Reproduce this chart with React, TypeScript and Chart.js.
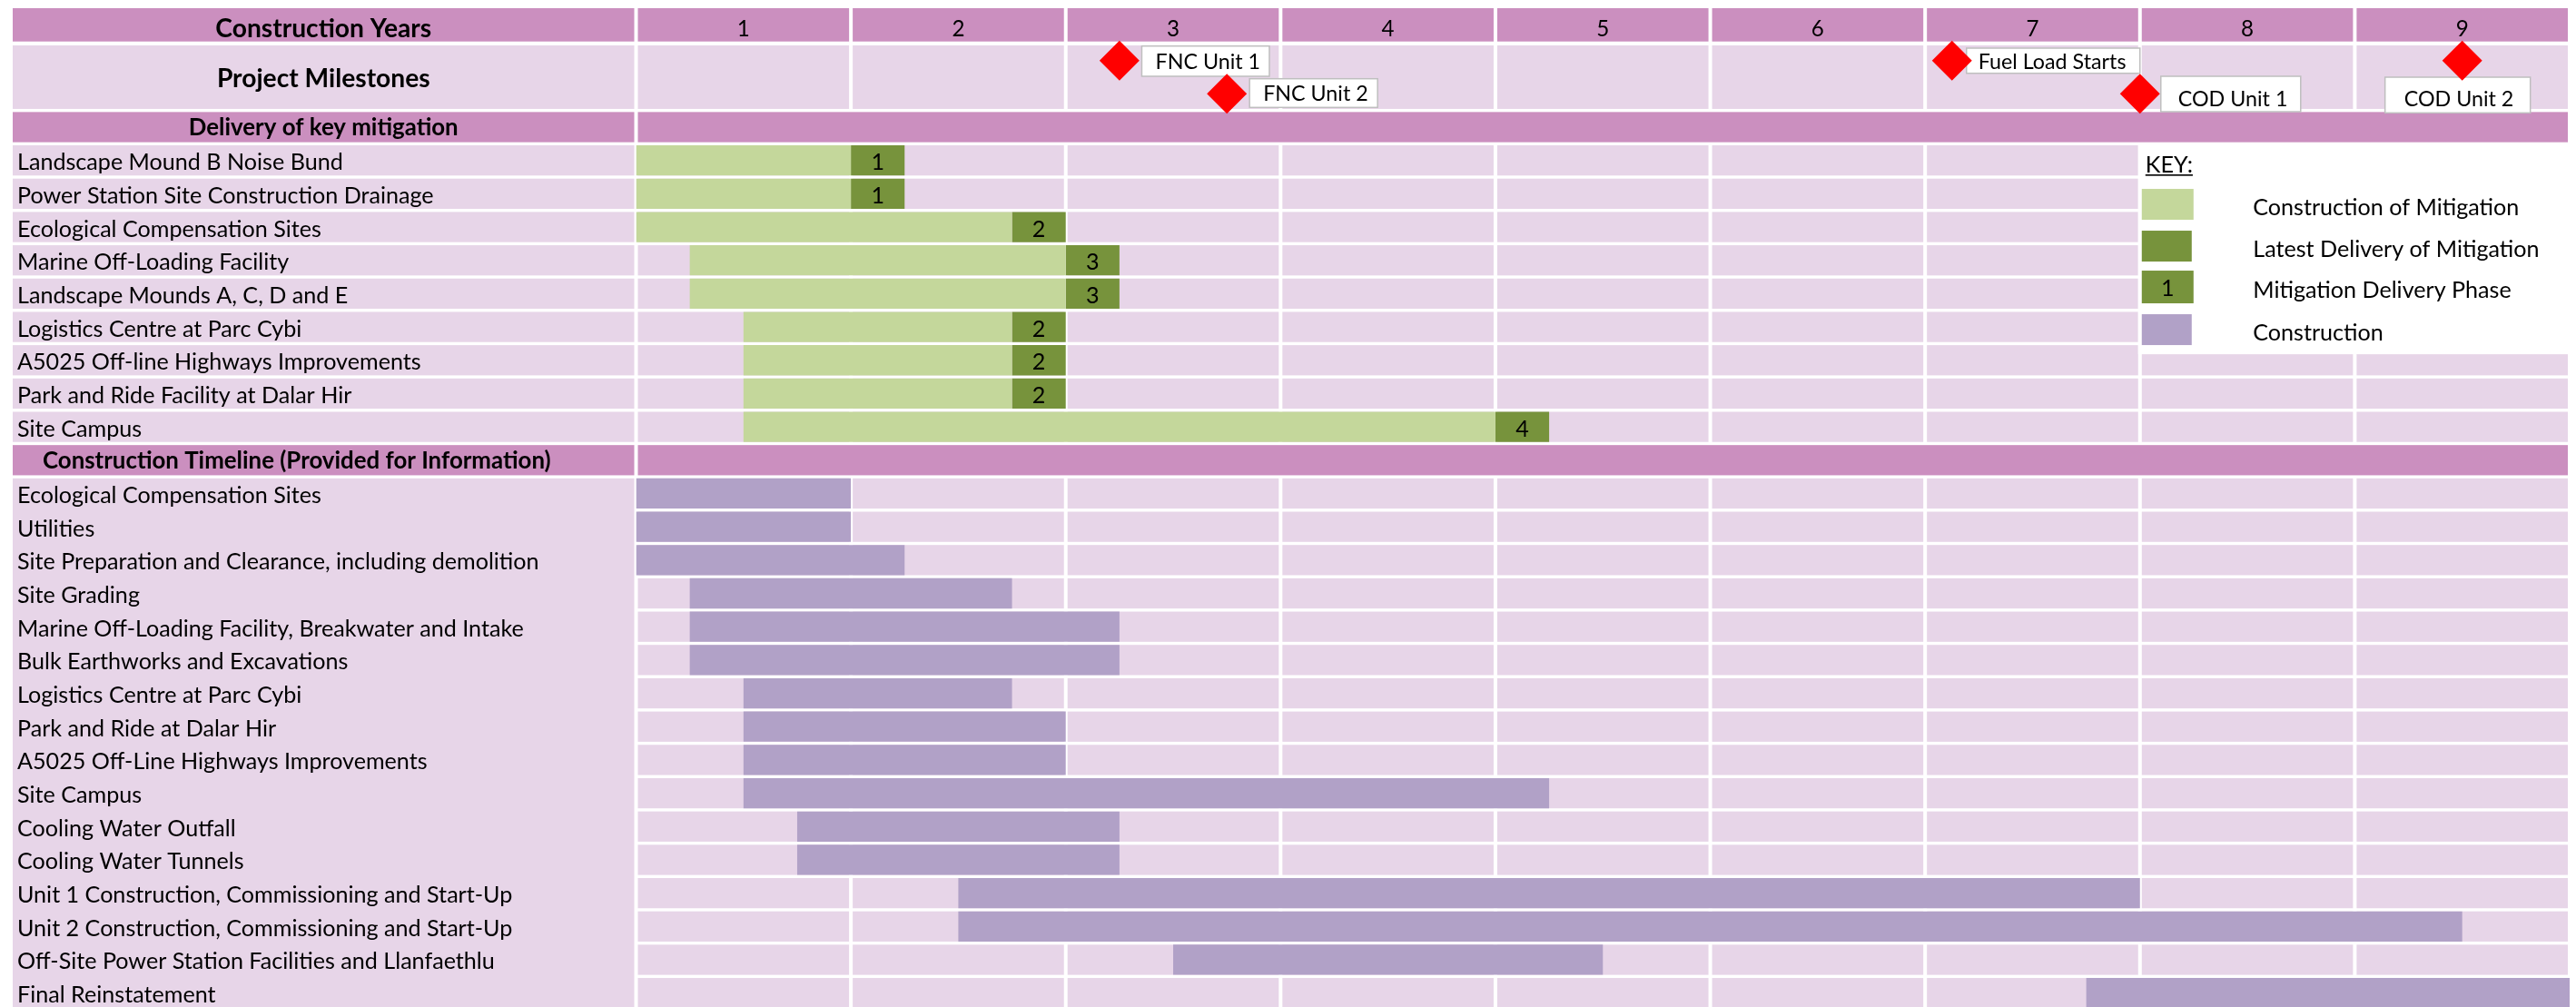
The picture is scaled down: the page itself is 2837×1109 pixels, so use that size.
import { useEffect, useRef } from 'react';
import { Chart, registerables } from 'chart.js';

Chart.register(...registerables);

// ---------------- data ----------------
const yearsHeading = 'Construction Years';
const yearLabels = ['1', '2', '3', '4', '5', '6', '7', '8', '9'];
const quartersPerYear = 4;

const milestoneHeading = 'Project Milestones';
const milestoneLowerLane = ' ';
const milestoneNames = ['FNC Unit 1', 'FNC Unit 2', 'Fuel Load Starts', 'COD Unit 1', 'COD Unit 2'];
const milestoneQuarter = [9, 11, 24.5, 28, 34];
const milestoneLane = [milestoneHeading, milestoneLowerLane, milestoneHeading, milestoneLowerLane, milestoneHeading];

const mitigationHeading = 'Delivery of key mitigation';
const mitigationTasks = [
  'Landscape Mound B Noise Bund',
  'Power Station Site Construction Drainage',
  'Ecological Compensation Sites',
  'Marine Off-Loading Facility',
  'Landscape Mounds A, C, D and E',
  'Logistics Centre at Parc Cybi',
  'A5025 Off-line Highways Improvements',
  'Park and Ride Facility at Dalar Hir',
  'Site Campus',
];
const mitigationStart = [0, 0, 0, 1, 1, 2, 2, 2, 2];
const mitigationLatestStart = [4, 4, 7, 8, 8, 7, 7, 7, 16];
const mitigationLatestEnd = [5, 5, 8, 9, 9, 8, 8, 8, 17];
const mitigationPhase = [1, 1, 2, 3, 3, 2, 2, 2, 4];

const constructionHeading = 'Construction Timeline (Provided for Information)';
const constructionTasks = [
  'Ecological Compensation Sites',
  'Utilities',
  'Site Preparation and Clearance, including demolition',
  'Site Grading',
  'Marine Off-Loading Facility, Breakwater and Intake',
  'Bulk Earthworks and Excavations',
  'Logistics Centre at Parc Cybi',
  'Park and Ride at Dalar Hir',
  'A5025 Off-Line Highways Improvements',
  'Site Campus',
  'Cooling Water Outfall',
  'Cooling Water Tunnels',
  'Unit 1 Construction, Commissioning and Start-Up',
  'Unit 2 Construction, Commissioning and Start-Up',
  'Off-Site Power Station Facilities and Llanfaethlu',
  'Final Reinstatement',
];
const constructionStart = [0, 0, 0, 1, 1, 1, 2, 2, 2, 2, 3, 3, 6, 6, 10, 27];
const constructionEnd = [4, 4, 5, 7, 9, 9, 7, 8, 8, 17, 9, 9, 28, 34, 18, 36];

const keyTitle = 'KEY:';
const keyLabels = ['Construction of Mitigation', 'Latest Delivery of Mitigation', 'Mitigation Delivery Phase', 'Construction'];
const keyPhaseSample = '1';

// ---------------- styles / layout ----------------
const CANVAS_W = 2837;
const CANVAS_H = 1112;
const FONT_FAMILY = 'Lato, "Open Sans", sans-serif';
const CAP = 0.7165;
const HEADER_PINK = '#CB8FBF';
const CELL_PINK = '#E7D5E8';
const MITIGATION_GREEN = '#C4D79B';
const LATEST_GREEN = '#77933C';
const CONSTRUCTION_PURPLE = '#B1A1C7';
const MILESTONE_RED = '#FF0000';
const ROW_FILL = 0.907;
const LABEL_LEFT = 14;
const LABEL_TEXT_X = 19;
const COL_GAP = 4;
const HEADER_TOP = 9;
const HEADER_BOTTOM = 45.7;

const calloutLayout = [
  { dx: 24.6, dy: 0.7, w: 140.5, h: 33.3, pad: 15, ty: 0.6 },
  { dx: 25, dy: 36.7, w: 141, h: 31.6, pad: 15, ty: 0.5 },
  { dx: 16, dy: 3, w: 191, h: 27.7, pad: 13, ty: 1 },
  { dx: 23, dy: 34, w: 154, h: 39, pad: 19, ty: 5.5 },
  { dx: -85, dy: 35, w: 160, h: 39.3, pad: 21, ty: 4.3 },
];

// ---------------- derived tables ----------------
const categories = [
  milestoneHeading,
  milestoneLowerLane,
  mitigationHeading,
  ...mitigationTasks,
  constructionHeading,
  ...constructionTasks,
];
const mitigationOffset = 3;
const constructionHeadingIndex = mitigationOffset + mitigationTasks.length;
const constructionOffset = constructionHeadingIndex + 1;
const totalQuarters = yearLabels.length * quartersPerYear;

const emptyRows = () => categories.map(() => null as any);
const mitigationBuildData = emptyRows();
const mitigationLatestData = emptyRows();
mitigationTasks.forEach((_, i) => {
  mitigationBuildData[mitigationOffset + i] = [mitigationStart[i], mitigationLatestStart[i]];
  mitigationLatestData[mitigationOffset + i] = [mitigationLatestStart[i], mitigationLatestEnd[i]];
});
const constructionData = emptyRows();
constructionTasks.forEach((_, i) => {
  constructionData[constructionOffset + i] = [constructionStart[i], constructionEnd[i]];
});
const milestoneData = milestoneNames.map((_, i) => ({ x: milestoneQuarter[i], y: milestoneLane[i] }));

// ---------------- drawing helpers ----------------
function fonts(ctx: CanvasRenderingContext2D) {
  ctx.save();
  ctx.font = `400 100px ${FONT_FAMILY}`;
  const wr = ctx.measureText('Site Preparation and Clearance, including demolition').width;
  ctx.font = `700 100px ${FONT_FAMILY}`;
  const wb = ctx.measureText('Construction Timeline (Provided for Information)').width;
  ctx.restore();
  const kr = (575 * 100) / wr / 27;
  const kb = (560 * 100) / wb / 27.5;
  return { reg: (c: number) => c * kr, bold: (c: number) => c * kb };
}

function rect(ctx: CanvasRenderingContext2D, color: string, x: number, y: number, w: number, h: number) {
  ctx.fillStyle = color;
  ctx.fillRect(x, y, w, h);
}

function text(
  ctx: CanvasRenderingContext2D,
  s: string,
  x: number,
  capCenter: number,
  size: number,
  weight: number,
  align: CanvasTextAlign,
) {
  ctx.font = `${weight} ${size}px ${FONT_FAMILY}`;
  ctx.textAlign = align;
  ctx.textBaseline = 'alphabetic';
  ctx.fillStyle = '#000000';
  ctx.fillText(s, x, capCenter + (CAP * size) / 2);
}

const ganttPlugin = {
  id: 'ganttFrame',
  beforeDatasetsDraw(chart: any) {
    const { ctx, chartArea: ca, scales } = chart;
    const xs = scales.x;
    const ys = scales.y;
    const labels = chart.data.labels as string[];
    const n = labels.length;
    const pitch = (ys.bottom - ys.top) / n;
    const cellH = pitch * ROW_FILL;
    const cy = (i: number) => ys.getPixelForValue(i);
    const top = (i: number) => cy(i) - cellH / 2;
    const bot = (i: number) => cy(i) + cellH / 2;
    const qx = (q: number) => xs.getPixelForValue(q);
    const labelRight = ca.left - COL_GAP / 2;
    const labelMid = (LABEL_LEFT + labelRight) / 2;
    const f = fonts(ctx);
    const yearCells = yearLabels.map((_, k) => [
      qx(k * quartersPerYear) + COL_GAP / 2,
      qx((k + 1) * quartersPerYear) - COL_GAP / 2,
    ]);
    const gridL = yearCells[0][0];
    const gridR = yearCells[yearCells.length - 1][1];

    ctx.save();

    // header row
    const hMid = (HEADER_TOP + HEADER_BOTTOM) / 2;
    rect(ctx, HEADER_PINK, LABEL_LEFT, HEADER_TOP, labelRight - LABEL_LEFT, HEADER_BOTTOM - HEADER_TOP);
    text(ctx, yearsHeading, labelMid, hMid + 4, f.bold(30), 700, 'center');
    yearCells.forEach(([a, b], k) => {
      rect(ctx, HEADER_PINK, a, HEADER_TOP, b - a, HEADER_BOTTOM - HEADER_TOP);
      text(ctx, yearLabels[k], (a + b) / 2, hMid + 4, f.reg(26), 400, 'center');
    });

    // milestone row (two lanes merged)
    const mTop = top(0);
    const mBot = bot(1);
    rect(ctx, CELL_PINK, LABEL_LEFT, mTop, labelRight - LABEL_LEFT, mBot - mTop);
    yearCells.forEach(([a, b]) => rect(ctx, CELL_PINK, a, mTop, b - a, mBot - mTop));
    text(ctx, labels[0], labelMid, (mTop + mBot) / 2 + 1, f.bold(30), 700, 'center');

    // section headings
    const headings: [number, CanvasTextAlign, number][] = [
      [2, 'center', labelMid],
      [constructionHeadingIndex, 'left', 47],
    ];
    headings.forEach(([i, align, x]) => {
      rect(ctx, HEADER_PINK, LABEL_LEFT, top(i), labelRight - LABEL_LEFT, cellH);
      rect(ctx, HEADER_PINK, gridL, top(i), gridR - gridL, cellH);
      text(ctx, labels[i], x, cy(i), f.bold(27.5), 700, align);
    });

    // mitigation rows
    for (let i = mitigationOffset; i < constructionHeadingIndex; i++) {
      rect(ctx, CELL_PINK, LABEL_LEFT, top(i), labelRight - LABEL_LEFT, cellH);
      yearCells.forEach(([a, b]) => rect(ctx, CELL_PINK, a, top(i), b - a, cellH));
      text(ctx, labels[i], LABEL_TEXT_X, cy(i) + 1.5, f.reg(27), 400, 'left');
    }

    // construction rows (label column merged)
    const cTop = top(constructionOffset);
    rect(ctx, CELL_PINK, LABEL_LEFT, cTop, labelRight - LABEL_LEFT, chart.height - cTop);
    for (let i = constructionOffset; i < n; i++) {
      yearCells.forEach(([a, b]) => rect(ctx, CELL_PINK, a, top(i), b - a, cellH));
      text(ctx, labels[i], LABEL_TEXT_X, cy(i) + 1.5, f.reg(27), 400, 'left');
    }

    // milestone callouts
    const ms = chart.getDatasetMeta(3);
    milestoneNames.forEach((name, j) => {
      const el = ms.data[j];
      if (!el) return;
      const L = calloutLayout[j];
      const bx = el.x + L.dx;
      const by = mTop + L.dy;
      rect(ctx, '#FFFFFF', bx, by, L.w, L.h);
      ctx.strokeStyle = '#BFBFBF';
      ctx.lineWidth = 1.5;
      ctx.strokeRect(bx, by, L.w, L.h);
      text(ctx, name, bx + L.pad, by + L.h / 2 + L.ty, f.reg(25), 400, 'left');
    });

    // key / legend
    const ds = chart.data.datasets;
    const legL = qx(28) - 2;
    const legT = top(mitigationOffset) - 2;
    const legB = top(mitigationOffset + 6) + 10;
    rect(ctx, '#FFFFFF', legL, legT, chart.width - legL, legB - legT);
    const kSize = f.reg(27);
    text(ctx, keyTitle, legL + 8, legT + 23, kSize, 400, 'left');
    ctx.font = `400 ${kSize}px ${FONT_FAMILY}`;
    const kw = ctx.measureText(keyTitle).width;
    rect(ctx, '#000000', legL + 8, legT + 23 + (CAP * kSize) / 2 + 2, kw, 1.6);
    const swatchTops = [50, 96, 140, 188];
    const swatchH = [34, 34, 36, 34];
    const swatchW = [57, 55, 57, 55];
    const swatchColors = [ds[0].backgroundColor, ds[1].backgroundColor, ds[1].backgroundColor, ds[2].backgroundColor];
    keyLabels.forEach((lab, k) => {
      const sy = legT + swatchTops[k];
      rect(ctx, swatchColors[k], legL + 4, sy, swatchW[k], swatchH[k]);
      if (k === 2) text(ctx, keyPhaseSample, legL + 4 + swatchW[k] / 2, sy + swatchH[k] / 2 + 1, kSize, 400, 'center');
      text(ctx, lab, legL + 126.5, sy + swatchH[k] / 2 + 2.5, kSize, 400, 'left');
    });

    ctx.restore();
  },
  afterDatasetsDraw(chart: any) {
    const { ctx } = chart;
    const f = fonts(ctx);
    const meta = chart.getDatasetMeta(1);
    ctx.save();
    mitigationPhase.forEach((p, i) => {
      const el = meta.data[mitigationOffset + i];
      if (!el) return;
      const { x, base, y } = el.getProps(['x', 'base', 'y'], true);
      text(ctx, String(p), (x + base) / 2, y + 1.5, f.reg(27), 400, 'center');
    });
    ctx.restore();
  },
};

export default function App() {
  const ref = useRef<HTMLCanvasElement>(null);
  useEffect(() => {
    const canvas = ref.current;
    if (!canvas) return;
    const chart = new Chart(canvas, {
      type: 'bar',
      data: {
        labels: categories,
        datasets: [
          { type: 'bar', label: keyLabels[0], data: mitigationBuildData, backgroundColor: MITIGATION_GREEN } as any,
          { type: 'bar', label: keyLabels[1], data: mitigationLatestData, backgroundColor: LATEST_GREEN } as any,
          { type: 'bar', label: keyLabels[3], data: constructionData, backgroundColor: CONSTRUCTION_PURPLE } as any,
          {
            type: 'scatter',
            label: milestoneHeading,
            data: milestoneData,
            pointStyle: 'rectRot',
            pointRadius: 22,
            pointHoverRadius: 22,
            backgroundColor: MILESTONE_RED,
            borderWidth: 0,
            clip: false,
          } as any,
        ],
      },
      options: {
        indexAxis: 'y',
        responsive: false,
        animation: false,
        devicePixelRatio: 1,
        events: [],
        layout: { autoPadding: false, padding: { left: 700.5, right: 7, top: 48.3, bottom: 0 } },
        scales: {
          x: { type: 'linear', min: 0, max: totalQuarters, display: false },
          y: { type: 'category', display: false, offset: true },
        },
        datasets: {
          bar: { grouped: false, barPercentage: 1, categoryPercentage: ROW_FILL, borderWidth: 0 },
        },
        plugins: { legend: { display: false }, tooltip: { enabled: false } },
      } as any,
      plugins: [ganttPlugin],
    });
    return () => chart.destroy();
  }, []);
  return (
    <div
      style={{
        position: 'fixed',
        left: 0,
        top: 0,
        width: CANVAS_W,
        height: '100vh',
        overflow: 'hidden',
        background: '#ffffff',
      }}
    >
      <canvas ref={ref} width={CANVAS_W} height={CANVAS_H} style={{ display: 'block' }} />
    </div>
  );
}
